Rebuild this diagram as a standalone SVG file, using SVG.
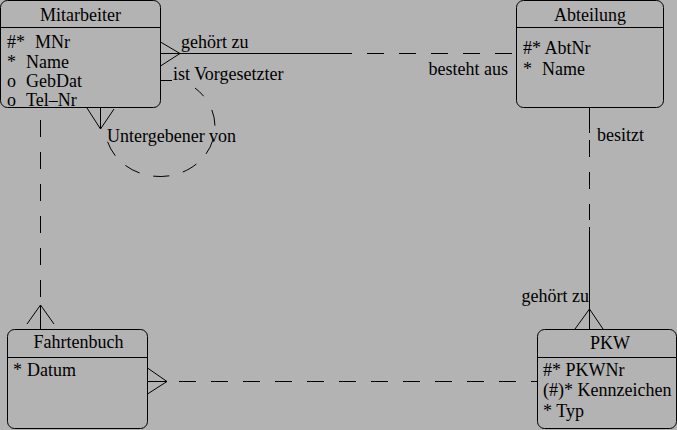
<svg xmlns="http://www.w3.org/2000/svg" width="677" height="430" viewBox="0 0 677 430">
<style>
text{font-family:"Liberation Serif","Times New Roman",serif;font-size:18px;fill:#000}
.hd{text-anchor:middle}
.box{fill:#b3b3b3;stroke:#000;stroke-width:1}
.ln{stroke:#000;stroke-width:1;fill:none}
.ds{stroke:#000;stroke-width:1;fill:none;stroke-dasharray:17 15}
</style>
<rect width="677" height="430" fill="#b3b3b3"/>
<g id="connectors">
  <!-- Mitarbeiter - Abteilung -->
  <path class="ln" d="M160.5,42 L180,53.5 L160.5,66 M160.5,53.5 H352"/>
  <path class="ds" d="M367,53.5 H513"/>
  <text x="181" y="48">gehört zu</text>
  <text x="508" y="75" text-anchor="end">besteht aus</text>
  <!-- self relation -->
  <path class="ln" d="M160.5,80.5 H172"/>
  <text x="173" y="80">ist Vorgesetzter</text>
  <path class="ln" d="M87,108 L100.5,129 L114,109 M100.5,107 V129"/>
  <path class="ln" d="M195,88 A55,50 0 1 1 107,140" stroke-dasharray="12 16 16 14 16 14 16 14 16 14 16 14 16 14"/>
  <text x="107" y="142">Untergebener von</text>
  <!-- Mitarbeiter - Fahrtenbuch -->
  <path class="ds" d="M40.5,120 V297"/>
  <path class="ln" d="M27,324 L40.5,305 L54,324 M40.5,305 V329"/>
  <!-- Fahrtenbuch - PKW -->
  <path class="ln" d="M147.5,368 L167,381.5 L147.5,394 M147.5,381.5 H167"/>
  <path class="ds" d="M179,381.5 H537"/>
  <!-- Abteilung - PKW -->
  <path class="ln" d="M589.5,107 V133"/>
  <path class="ds" d="M589.5,140 V220"/>
  <path class="ln" d="M589.5,227 V329 M575,329 L589.5,309 L603,329"/>
  <text x="597" y="141">besitzt</text>
  <text x="589" y="302" text-anchor="end">gehört zu</text>
</g>
<g id="Mitarbeiter">
  <rect class="box" x="0.5" y="0.5" width="160" height="107" rx="7"/>
  <path class="ln" d="M0.5,27.5 H160.5"/>
  <text class="hd" x="80.5" y="21">Mitarbeiter</text>
  <text x="7" y="48">#*</text><text x="35" y="48">MNr</text>
  <text x="7" y="68">*</text><text x="26" y="68">Name</text>
  <text x="7" y="87">o</text><text x="26" y="87">GebDat</text>
  <text x="7" y="106">o</text><text x="26" y="106">Tel–Nr</text>
</g>
<g id="Abteilung">
  <rect class="box" x="516.5" y="0.5" width="147" height="107" rx="7"/>
  <path class="ln" d="M516.5,27.5 H663.5"/>
  <text class="hd" x="590" y="21">Abteilung</text>
  <text x="523" y="54">#* AbtNr</text>
  <text x="523" y="75">*</text><text x="542" y="75">Name</text>
</g>
<g id="Fahrtenbuch">
  <rect class="box" x="7.5" y="329.5" width="140" height="99" rx="7"/>
  <path class="ln" d="M7.5,357.5 H147.5"/>
  <text class="hd" x="78.5" y="348">Fahrtenbuch</text>
  <text x="13" y="376">*</text><text x="27" y="376">Datum</text>
</g>
<g id="PKW">
  <rect class="box" x="537.5" y="329.5" width="139" height="99" rx="7"/>
  <path class="ln" d="M537.5,357.5 H676.5"/>
  <text class="hd" x="610" y="349">PKW</text>
  <text x="543" y="376">#* PKWNr</text>
  <text x="543" y="396">(#)* Kennzeichen</text>
  <text x="543" y="417">* Typ</text>
</g>
</svg>
